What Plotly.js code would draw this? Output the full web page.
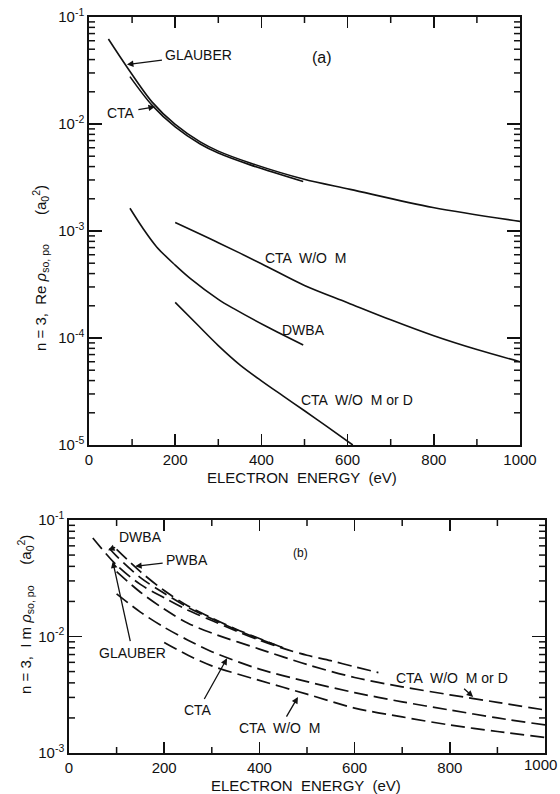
<!DOCTYPE html>
<html>
<head>
<meta charset="utf-8">
<script src="https://cdn.plot.ly/plotly-3.0.1.min.js"></script>
<style>html,body{margin:0;padding:0;background:#fff;}#chart{width:560px;height:794px;}</style>
</head>
<body>
<div id="chart"></div>
<script>
// ---------- Panel (a): n=3, Re rho_{so,po} (a0^2) ----------
var aGlauberE = [45, 88, 146, 200, 258, 300, 374, 497, 606, 798, 1000];
var aGlauberV = [0.0622, 0.0341, 0.0161, 0.0099, 0.0068, 0.00558, 0.00432, 0.00306, 0.00245, 0.00166, 0.00123];
var aCtaE = [95, 146, 200, 258, 300, 374, 497];
var aCtaV = [0.0277, 0.0150, 0.0094, 0.0065, 0.00535, 0.00415, 0.0029];
var aCtaNoME = [200, 300, 400, 500, 600, 700, 800, 900, 1000];
var aCtaNoMV = [0.00120, 0.000778, 0.000495, 0.00031, 0.000214, 0.000148, 0.000105, 0.000078, 0.000060];
var aDwbaE = [95, 125, 157, 200, 234, 300, 335, 412, 497];
var aDwbaV = [0.00163, 0.00106, 0.00071, 0.00048, 0.000363, 0.00023, 0.000189, 0.000128, 0.000086];
var aCtaNoMDE = [200, 250, 300, 350, 400, 450, 500, 550, 612];
var aCtaNoMDV = [0.000215, 0.000135, 0.000085, 0.0000562, 0.0000398, 0.0000288, 0.0000209, 0.0000151, 0.0000100];

// ---------- Panel (b): n=3, Im rho_{so,po} (a0^2) ----------
var bGlauberE = [50, 100, 150, 200, 250, 300, 350, 400, 450, 500, 550, 600, 650];
var bGlauberV = [0.070, 0.041, 0.028, 0.0215, 0.0168, 0.0137, 0.0112, 0.0093, 0.0079, 0.0069, 0.0062, 0.0055, 0.0049];
var bDwbaE = [85, 100, 150, 200, 250, 300, 350, 400, 450];
var bDwbaV = [0.057, 0.049, 0.032, 0.0235, 0.0178, 0.0142, 0.0115, 0.0095, 0.0080];
var bPwbaE = [100, 150, 200, 250, 300, 350, 400, 450];
var bPwbaV = [0.056, 0.036, 0.0248, 0.0183, 0.0144, 0.0116, 0.0096, 0.0080];
var bCtaNoMDE = [100, 150, 200, 250, 300, 400, 500, 600, 700, 800, 900, 1000];
var bCtaNoMDV = [0.036, 0.024, 0.0172, 0.0130, 0.0107, 0.0078, 0.00575, 0.00445, 0.0037, 0.00316, 0.00272, 0.00234];
var bCtaE = [100, 150, 200, 250, 300, 400, 500, 600, 700, 800, 900, 1000];
var bCtaV = [0.0232, 0.0162, 0.0120, 0.0093, 0.0074, 0.00525, 0.0041, 0.0033, 0.00275, 0.00234, 0.0020, 0.00174];
var bCtaNoME = [200, 250, 300, 400, 500, 600, 700, 800, 900, 1000];
var bCtaNoMV = [0.0089, 0.0069, 0.0056, 0.0042, 0.0032, 0.00243, 0.00204, 0.00174, 0.00153, 0.00136];

// ---------- ticks ----------
var xTickVals = [0, 200, 400, 600, 800, 1000];
var xTickText = ['0', '200', '400', '600', '800', '1000'];
var xMinorVals = [100, 300, 500, 700, 900];
var aYTickVals = [1e-5, 1e-4, 1e-3, 1e-2, 1e-1];
var aYTickText = ['10<sup>-5</sup>', '10<sup>-4</sup>', '10<sup>-3</sup>', '10<sup>-2</sup>', '10<sup>-1</sup>'];
var bYTickVals = [1e-3, 1e-2, 1e-1];
var bYTickText = ['10<sup>-3</sup>', '10<sup>-2</sup>', '10<sup>-1</sup>'];
var minorDigits = [2, 3, 4, 5, 6, 7, 8, 9];

function minorLog(k0, k1) {
  var v = [];
  for (var k = k0; k < k1; k++) minorDigits.forEach(function (d) { v.push(d * Math.pow(10, k)); });
  return v;
}

var W = 560, H = 794;
function px(x) { return x / W; }
function py(y) { return 1 - y / H; }

// plot-area frames (pixels)
var frameA = {l: 89, r: 520, t: 17, b: 445};
var frameB = {l: 69, r: 545, t: 520, b: 753};

var solid = {color: '#111', width: 1.6, shape: 'spline', smoothing: 0.9};
var dashed = {color: '#111', width: 1.7, shape: 'spline', smoothing: 0.9, dash: '14px,6px'};

function tr(x, y, line, xa, ya, name) {
  return {x: x, y: y, mode: 'lines', line: line, xaxis: xa, yaxis: ya, name: name, hoverinfo: 'skip'};
}

var data = [
  tr(aGlauberE, aGlauberV, solid, 'x', 'y', 'GLAUBER'),
  tr(aCtaE, aCtaV, solid, 'x', 'y', 'CTA'),
  tr(aCtaNoME, aCtaNoMV, solid, 'x', 'y', 'CTA W/O M'),
  tr(aDwbaE, aDwbaV, solid, 'x', 'y', 'DWBA'),
  tr(aCtaNoMDE, aCtaNoMDV, solid, 'x', 'y', 'CTA W/O M or D'),
  tr(bGlauberE, bGlauberV, dashed, 'x2', 'y2', 'GLAUBER'),
  tr(bDwbaE, bDwbaV, dashed, 'x2', 'y2', 'DWBA'),
  tr(bPwbaE, bPwbaV, dashed, 'x2', 'y2', 'PWBA'),
  tr(bCtaNoMDE, bCtaNoMDV, dashed, 'x2', 'y2', 'CTA W/O M or D'),
  tr(bCtaE, bCtaV, dashed, 'x2', 'y2', 'CTA'),
  tr(bCtaNoME, bCtaNoMV, dashed, 'x2', 'y2', 'CTA W/O M')
];

var fontFam = '"Liberation Sans", Arial, Helvetica, sans-serif';
var tickFont = {family: fontFam, size: 15, color: '#111'};

function xAxis(f, anchor, tv, tt) {
  return {
    domain: [px(f.l), px(f.r)], anchor: anchor, range: [0, 1000],
    tickmode: 'array', tickvals: tv, ticktext: tt,
    ticks: 'inside', ticklen: 11, tickwidth: 1.6, tickcolor: '#111',
    showline: true, linecolor: '#111', linewidth: 1.7, mirror: 'allticks',
    showgrid: false, zeroline: false, tickfont: tickFont, fixedrange: true
  };
}
function yAxis(f, anchor, range, tv, tt) {
  return {
    domain: [py(f.b), py(f.t)], anchor: anchor, type: 'log', range: range,
    tickmode: 'array', tickvals: tv, ticktext: tt,
    ticks: 'inside', ticklen: 13, tickwidth: 1.6, tickcolor: '#111',
    showline: true, linecolor: '#111', linewidth: 1.7, mirror: 'allticks',
    showgrid: false, zeroline: false, tickfont: tickFont, fixedrange: true
  };
}

// minor ticks as short segments placed on the axes' own scales
var TL = 6;
function minorShapes(f, xa, ya, yVals) {
  var s = [], ln = {color: '#111', width: 1.5};
  xMinorVals.forEach(function (v) {
    s.push({type: 'line', xref: xa, yref: 'paper', x0: v, x1: v, y0: py(f.b), y1: py(f.b - TL), line: ln, layer: 'above'});
    s.push({type: 'line', xref: xa, yref: 'paper', x0: v, x1: v, y0: py(f.t), y1: py(f.t + TL), line: ln, layer: 'above'});
  });
  yVals.forEach(function (v) {
    s.push({type: 'line', xref: 'paper', yref: ya, x0: px(f.l), x1: px(f.l + TL), y0: v, y1: v, line: ln, layer: 'above'});
    s.push({type: 'line', xref: 'paper', yref: ya, x0: px(f.r), x1: px(f.r - TL), y0: v, y1: v, line: ln, layer: 'above'});
  });
  return s;
}

function txt(x, y, s, size, extra) {
  var o = {xref: 'paper', yref: 'paper', x: px(x), y: py(y), text: s, showarrow: false,
           xanchor: 'center', yanchor: 'middle', font: {family: fontFam, size: size || 14, color: '#111'}};
  for (var k in extra) o[k] = extra[k];
  return o;
}
function arrowLbl(xa, ya, xv, yv, s, ax, ay) {
  return {xref: xa, yref: ya, x: xv, y: Math.log10(yv), text: s, showarrow: true,
          ax: ax, ay: ay, arrowhead: 2, arrowsize: 1, arrowwidth: 1.3, arrowcolor: '#111',
          standoff: 0, startstandoff: 2,
          font: {family: fontFam, size: 14, color: '#111'}};
}

var annotations = [
  // panel (a)
  txt(40, 268, 'n = 3,  Re <i>ρ</i><sub>so, po</sub>       (a<sub>0</sub><sup>2</sup>)', 15, {textangle: -90}),
  txt(302, 477, 'ELECTRON  ENERGY  (eV)', 15),
  txt(322, 57, '(a)', 16),
  arrowLbl('x', 'y', 88, 0.036, 'GLAUBER', 72, -9),
  arrowLbl('x', 'y', 153, 0.0145, 'CTA', -34, 6),
  txt(305, 258, 'CTA  W/O  M', 14),
  txt(303, 330, 'DWBA', 14),
  txt(357, 400, 'CTA  W/O  M or D', 14),
  // panel (b)
  txt(25, 615, 'n = 3,  I m <i>ρ</i><sub>so, po</sub>     (a<sub>0</sub><sup>2</sup>)', 15, {textangle: -90}),
  txt(306, 785, 'ELECTRON  ENERGY  (eV)', 15),
  txt(300, 553, '(b)', 12),
  txt(559, 764, '1000', 15, {xanchor: 'right'}),
  arrowLbl('x2', 'y2', 82, 0.055, 'DWBA', 32, -13),
  arrowLbl('x2', 'y2', 139, 0.040, 'PWBA', 52, -6),
  arrowLbl('x2', 'y2', 92, 0.044, 'GLAUBER', 20, 91),
  arrowLbl('x2', 'y2', 332, 0.0065, 'CTA', -29, 52),
  arrowLbl('x2', 'y2', 481, 0.00303, 'CTA  W/O  M', -18, 31),
  arrowLbl('x2', 'y2', 849, 0.00303, 'CTA  W/O  M or D', -21, -19)
];

var layout = {
  width: W, height: H,
  margin: {l: 0, r: 0, t: 0, b: 0},
  paper_bgcolor: '#fff', plot_bgcolor: '#fff',
  showlegend: false,
  xaxis: xAxis(frameA, 'y', xTickVals, xTickText),
  yaxis: yAxis(frameA, 'x', [-5, -1], aYTickVals, aYTickText),
  xaxis2: xAxis(frameB, 'y2', xTickVals.slice(0, 5), xTickText.slice(0, 5)),
  yaxis2: yAxis(frameB, 'x2', [-3, -1], bYTickVals, bYTickText),
  shapes: minorShapes(frameA, 'x', 'y', minorLog(-5, -1)).concat(minorShapes(frameB, 'x2', 'y2', minorLog(-3, -1))),
  annotations: annotations,
  font: {family: fontFam, color: '#111'}
};

Plotly.newPlot('chart', data, layout, {staticPlot: true, displayModeBar: false});
</script>
</body>
</html>
